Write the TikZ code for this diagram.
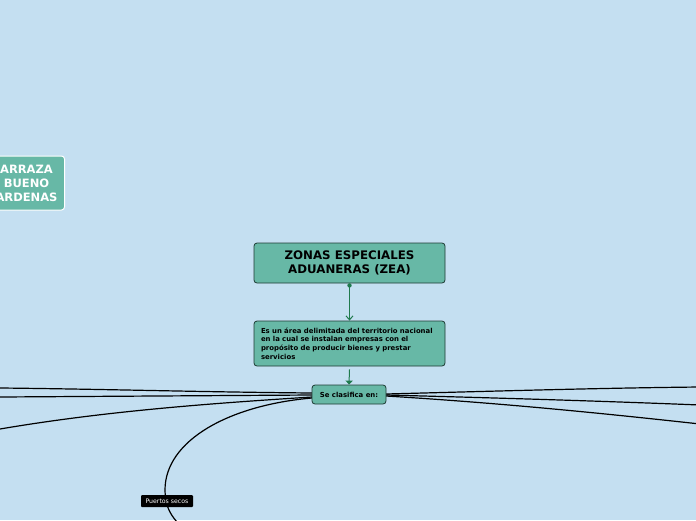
\documentclass[tikz,border=0pt]{standalone}
\usepackage{fontspec}
\setmainfont{DejaVu Sans}
\usetikzlibrary{arrows.meta}
\definecolor{bg}{HTML}{C4DFF1}
\definecolor{teal}{HTML}{67B8A6}
\definecolor{edge}{HTML}{1E3B34}
\definecolor{conn}{HTML}{1F7A4D}
\tikzset{
  box/.style={draw=edge, fill=teal, rounded corners=3pt, line width=0.8pt, inner sep=0pt},
  branch/.style={draw=black, line width=1.2pt},
  stem/.style={draw=conn, line width=1pt},
}
\begin{document}
\begin{tikzpicture}[x=1pt,y=-1pt]
\useasboundingbox (0,0) rectangle (696,520);
\fill[bg] (0,0) rectangle (696,520);
\begin{scope}
\clip (0,0) rectangle (696,520);
% branches
\coordinate (l1) at (0,388);
\coordinate (l2) at (0,397);
\coordinate (l3) at (0,429);
\coordinate (l4) at (177,522);
\coordinate (r1) at (700,387);
\coordinate (r2) at (700,405);
\coordinate (r3) at (700,424);
\draw[branch] (312,393) .. controls (200,392) and (100,389) .. (l1);
\draw[branch] (312,395) -- (l2);
\draw[branch] (312,397) .. controls (200,404) and (100,412) .. (l3);
\draw[branch] (312,398) .. controls (230,405) and (165,440) .. (165,490) .. controls (165,505) and (170,514) .. (l4);
\draw[branch] (386,394) .. controls (500,391) and (600,388) .. (r1);
\draw[branch] (386,395) .. controls (500,398) and (600,401) .. (r2);
\draw[branch] (386,396) .. controls (500,403) and (600,413) .. (r3);
% left clipped node
\node[box, draw=white, line width=1pt, minimum width=76pt, minimum height=54pt, anchor=east, text=white, font=\bfseries\fontsize{11.5}{14}\selectfont, align=center, text width=72pt] (author) at (65,183) {ARRAZA\\BUENO\\ARDENAS};
\end{scope}
% main nodes
\node[box, minimum width=191pt, minimum height=40pt, align=center, font=\bfseries\fontsize{11.8}{14}\selectfont] (zea) at (349.5,263) {ZONAS ESPECIALES\\ADUANERAS (ZEA)};
\node[box, minimum width=191pt, minimum height=45pt, align=left, text width=177pt, font=\bfseries\fontsize{6.9}{8.6}\selectfont] (def) at (349.5,343.5) {Es un área delimitada del territorio nacional\\en la cual se instalan empresas con el\\propósito de producir bienes y prestar\\servicios};
\node[box, minimum width=74pt, minimum height=19pt, font=\bfseries\fontsize{6.9}{8}\selectfont] (clas) at (349,394.5) {Se clasifica en:};
\node[fill=black, text=white, rounded corners=1pt, minimum width=52pt, minimum height=12pt, inner sep=0pt, font=\fontsize{6.2}{7}\selectfont] (ps) at (167,501) {Puertos secos};
% connectors
\coordinate (dot) at ([yshift=-2pt]zea.south);
\fill[conn] (dot) circle (2.2pt);
\draw[stem, -{Straight Barb[length=4pt,width=7pt]}] (dot) -- (def.north);
\draw[stem, -{Triangle[length=4pt,width=7pt]}] ([yshift=-3pt]def.south) -- (clas.north);
\end{tikzpicture}
\end{document}
